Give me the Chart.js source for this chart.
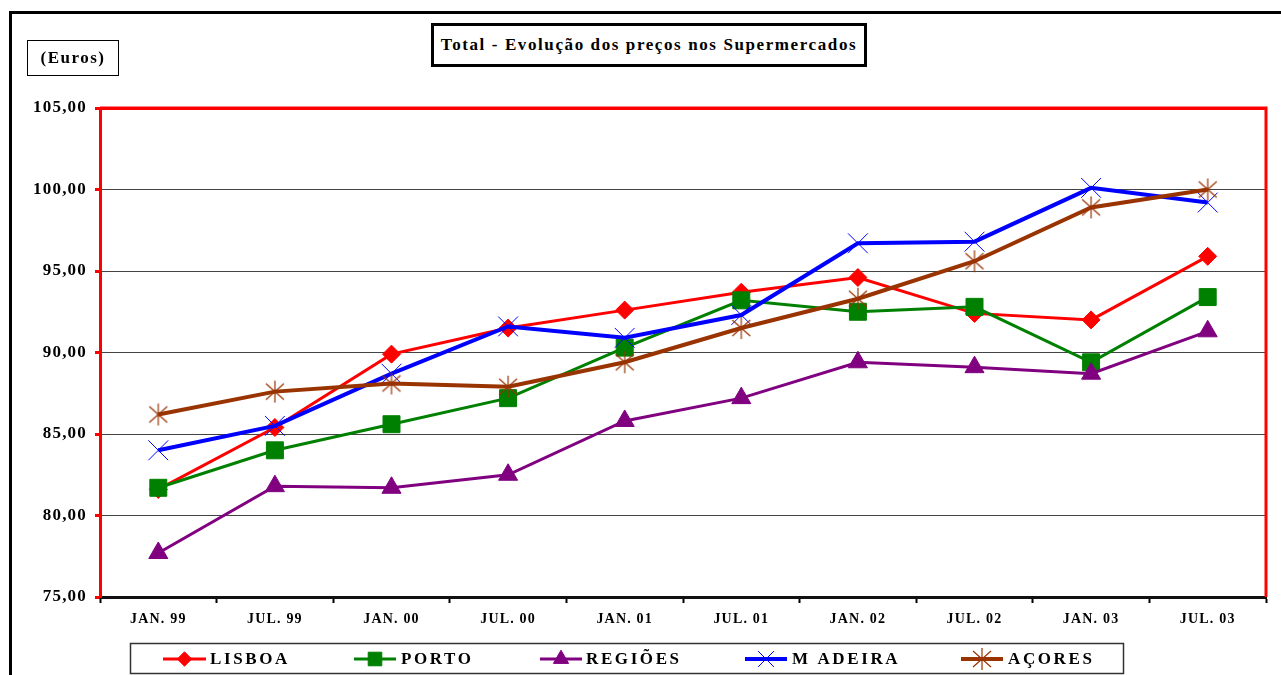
<!DOCTYPE html>
<html>
<head>
<meta charset="utf-8">
<script src="https://cdn.jsdelivr.net/npm/chart.js@4/dist/chart.umd.min.js"></script>
<style>
  body { margin: 0; background: #fff; }
  #wrap { position: relative; width: 1281px; height: 675px; overflow: hidden; font-family: "Liberation Serif", serif; }
  #frame { position: absolute; left: 9px; top: 11px; width: 1300px; height: 700px; border: 3px solid #000; }
  #title { position: absolute; left: 431px; top: 23px; width: 430px; height: 38px; border: 3px solid #000;
           font-weight: bold; font-size: 17px; letter-spacing: 1.6px; text-align: center; line-height: 38px; background: #fff; }
  #unit { position: absolute; left: 27px; top: 40px; width: 90px; height: 34px; border: 1px solid #000;
          font-weight: bold; font-size: 17px; letter-spacing: 1.5px; text-align: center; line-height: 34px; }
  canvas { position: absolute; left: 0; top: 0; }
</style>
</head>
<body>
<div id="wrap">
  <div id="frame"></div>
  <canvas id="chart" width="1281" height="675"></canvas>
  <div id="title">Total - Evolução dos preços nos Supermercados</div>
  <div id="unit">(Euros)</div>
</div>
<script>
const periods = ["JAN. 99", "JUL. 99", "JAN. 00", "JUL. 00", "JAN. 01", "JUL. 01", "JAN. 02", "JUL. 02", "JAN. 03", "JUL. 03"];
const lisboa  = [81.6, 85.4, 89.9, 91.5, 92.6, 93.7, 94.6, 92.4, 92.0, 95.9];
const porto   = [81.7, 84.0, 85.6, 87.2, 90.3, 93.2, 92.5, 92.8, 89.4, 93.4];
const regioes = [77.7, 81.8, 81.7, 82.5, 85.8, 87.2, 89.4, 89.1, 88.7, 91.3];
const madeira = [84.0, 85.5, 88.7, 91.6, 90.9, 92.3, 96.7, 96.8, 100.1, 99.2];
const acores  = [86.2, 87.6, 88.1, 87.9, 89.4, 91.5, 93.3, 95.6, 98.9, 100.0];
const yTicks  = [75, 80, 85, 90, 95, 100, 105];

// asterisk marker for AÇORES
const star = document.createElement('canvas');
star.width = 24; star.height = 24;
(function () {
  const c = star.getContext('2d');
  c.strokeStyle = '#993300';
  c.lineWidth = 1.2;
  c.beginPath();
  c.moveTo(12, 1); c.lineTo(12, 23);
  c.moveTo(3, 4); c.lineTo(21, 20);
  c.moveTo(21, 4); c.lineTo(3, 20);
  c.stroke();
})();

const font = { family: "'Liberation Serif', serif", weight: 'bold' };

const datasets = [
  { label: 'LISBOA', data: lisboa, borderColor: '#FF0000', backgroundColor: '#FF0000', borderWidth: 3,
    pointStyle: 'rectRot', pointRadius: 9, pointBorderWidth: 1, order: 5 },
  { label: 'PORTO', data: porto, borderColor: '#008000', backgroundColor: '#008000', borderWidth: 3,
    pointStyle: 'rect', pointRadius: 12, pointBorderWidth: 1, order: 4 },
  { label: 'REGIÕES', data: regioes, borderColor: '#800080', backgroundColor: '#800080', borderWidth: 3,
    pointStyle: 'triangle', pointRadius: 11, pointBorderWidth: 1, order: 3 },
  { label: 'M ADEIRA', data: madeira, borderColor: '#0000FF', backgroundColor: '#0000FF', borderWidth: 4,
    pointStyle: 'crossRot', pointRadius: 14, pointBorderWidth: 1, order: 2 },
  { label: 'AÇORES', data: acores, borderColor: '#993300', backgroundColor: '#993300', borderWidth: 4,
    pointStyle: star, pointRadius: 12, pointBorderWidth: 1, order: 1 }
];
datasets.forEach(d => { d.tension = 0; d.fill = false; d.pointHoverRadius = d.pointRadius; });

const frameBits = {
  id: 'frameBits',
  beforeDraw(chart) { chart.ctx.letterSpacing = '1.2px'; },
  beforeDatasetsDraw(chart) {
    const { ctx, chartArea: a } = chart;
    ctx.save();
    ctx.strokeStyle = '#FF0000';
    ctx.lineWidth = 3;
    ctx.beginPath();
    ctx.moveTo(a.left, a.top); ctx.lineTo(a.right, a.top); ctx.lineTo(a.right, a.bottom);
    ctx.stroke();
    ctx.restore();
  },
  afterDraw(chart) {
    const ctx = chart.ctx;
    const slots = [[163, 206, 210], [354, 396, 401], [540, 582, 586], [745, 787, 792], [961, 1003, 1008]];
    const y = 659;
    ctx.save();
    ctx.fillStyle = '#fff';
    ctx.fillRect(130, 643, 993, 32);
    ctx.strokeStyle = '#333';
    ctx.lineWidth = 1.5;
    ctx.strokeRect(130.5, 643.5, 993, 30);
    chart.data.datasets.forEach((d, i) => {
      const [x1, x2, tx] = slots[i];
      ctx.strokeStyle = d.borderColor;
      ctx.lineWidth = d.borderWidth;
      ctx.beginPath(); ctx.moveTo(x1, y); ctx.lineTo(x2, y); ctx.stroke();
      ctx.fillStyle = d.backgroundColor;
      ctx.strokeStyle = d.borderColor;
      ctx.lineWidth = 1;
      Chart.helpers.drawPoint(ctx, { pointStyle: d.pointStyle, radius: d.pointRadius * 0.8, rotation: 0, borderWidth: 1 }, (x1 + x2) / 2, y);
      ctx.fillStyle = '#000';
      ctx.font = "bold 17px 'Liberation Serif', serif";
      ctx.letterSpacing = '2.6px';
      ctx.textBaseline = 'middle';
      ctx.fillText(d.label, tx, y + 1);
    });
    ctx.restore();
  }
};

new Chart(document.getElementById('chart'), {
  type: 'line',
  data: { labels: periods, datasets },
  options: {
    responsive: false,
    animation: false,
    layout: { padding: { top: 108, right: 6, left: 0, bottom: 0 } },
    plugins: { legend: { display: false }, tooltip: { enabled: false } },
    scales: {
      x: {
        offset: true,
        grid: { offset: true, drawOnChartArea: false, tickLength: 6, tickColor: '#000', tickWidth: 2 },
        border: { color: '#111', width: 3 },
        ticks: { font: { ...font, size: 14 }, color: '#000', padding: 8, maxRotation: 0, autoSkip: false },
        afterFit(s) { s.height = 78; }
      },
      y: {
        min: 75, max: 105,
        afterBuildTicks(s) { s.ticks = yTicks.map(v => ({ value: v })); },
        grid: {
          color: c => c.tick && c.tick.value === 105 ? '#FF0000' : '#444',
          lineWidth: c => c.tick && c.tick.value === 105 ? 3 : 1,
          tickLength: 5, tickColor: '#FF0000', tickWidth: 3
        },
        border: { color: '#FF0000', width: 3 },
        ticks: {
          font: { ...font, size: 17 }, color: '#000', padding: 8,
          callback: v => v.toFixed(2).replace('.', ',')
        },
        afterFit(s) { s.width = 100; }
      }
    }
  },
  plugins: [frameBits]
});
</script>
</body>
</html>
